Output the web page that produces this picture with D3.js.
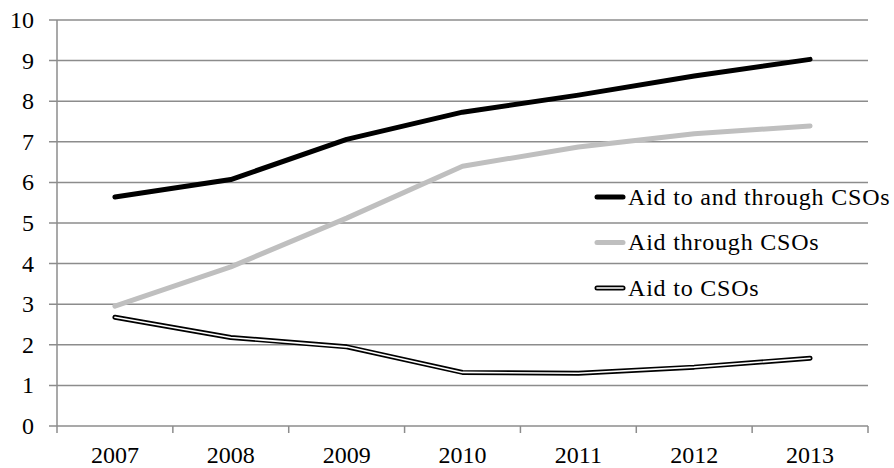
<!DOCTYPE html>
<html>
<head>
<meta charset="utf-8">
<script src="https://cdnjs.cloudflare.com/ajax/libs/d3/7.8.5/d3.min.js"></script>
<style>
  body { margin: 0; background: #fff; }
  text { font-family: "Liberation Serif", "DejaVu Serif", serif; fill: #000; }
</style>
</head>
<body>
<div id="chart"></div>
<script>
var years = ["2007", "2008", "2009", "2010", "2011", "2012", "2013"];
var aidToAndThrough = [5.64, 6.07, 7.06, 7.73, 8.15, 8.62, 9.03];
var aidThrough = [2.95, 3.92, 5.12, 6.40, 6.87, 7.20, 7.39];
var aidTo = [2.68, 2.18, 1.95, 1.32, 1.30, 1.45, 1.67];
var yTicks = [0, 1, 2, 3, 4, 5, 6, 7, 8, 9, 10];

var series = [
  {name: "Aid to and through CSOs", values: aidToAndThrough, type: "black"},
  {name: "Aid through CSOs", values: aidThrough, type: "gray"},
  {name: "Aid to CSOs", values: aidTo, type: "double"}
];

var width = 894, height = 468;
var plotLeft = 57, plotRight = 868, plotTop = 20, plotBottom = 426;

var svg = d3.select("#chart").append("svg")
    .attr("width", width)
    .attr("height", height);

var x = d3.scaleBand().domain(years).range([plotLeft, plotRight]);
var y = d3.scaleLinear().domain([0, 10]).range([plotBottom, plotTop]);

// gridlines
svg.append("g")
    .selectAll("line")
    .data(yTicks)
    .enter().append("line")
    .attr("x1", plotLeft - 8)
    .attr("x2", plotRight)
    .attr("y1", function(d) { return y(d); })
    .attr("y2", function(d) { return y(d); })
    .attr("stroke", "#8c8c8c")
    .attr("stroke-width", 1.5);

// y axis line
svg.append("line")
    .attr("x1", plotLeft).attr("x2", plotLeft)
    .attr("y1", plotTop).attr("y2", plotBottom + 7)
    .attr("stroke", "#8c8c8c")
    .attr("stroke-width", 1.5);

// x ticks between categories
var bounds = years.map(function(d) { return x(d) + x.bandwidth(); });
svg.append("g")
    .selectAll("line")
    .data(bounds)
    .enter().append("line")
    .attr("x1", function(d) { return d; })
    .attr("x2", function(d) { return d; })
    .attr("y1", plotBottom)
    .attr("y2", plotBottom + 7)
    .attr("stroke", "#8c8c8c")
    .attr("stroke-width", 1.5);

// y labels
svg.append("g")
    .selectAll("text")
    .data(yTicks)
    .enter().append("text")
    .attr("x", 34)
    .attr("y", function(d) { return y(d); })
    .attr("dy", "0.33em")
    .attr("text-anchor", "end")
    .style("font-size", "24px")
    .text(function(d) { return d; });

// x labels
svg.append("g")
    .selectAll("text")
    .data(years)
    .enter().append("text")
    .attr("x", function(d) { return x(d) + x.bandwidth() / 2; })
    .attr("y", 463)
    .attr("text-anchor", "middle")
    .style("font-size", "24px")
    .text(function(d) { return d; });

var line = d3.line()
    .x(function(d, i) { return x(years[i]) + x.bandwidth() / 2; })
    .y(function(d) { return y(d); });

function drawSeries(g, s, path) {
  if (s.type == "black") {
    g.append("path").attr("d", path).attr("fill", "none")
      .attr("stroke", "#000").attr("stroke-width", 5)
      .attr("stroke-linecap", "round").attr("stroke-linejoin", "round");
  } else if (s.type == "gray") {
    g.append("path").attr("d", path).attr("fill", "none")
      .attr("stroke", "#bfbfbf").attr("stroke-width", 5)
      .attr("stroke-linecap", "round").attr("stroke-linejoin", "round");
  } else {
    g.append("path").attr("d", path).attr("fill", "none")
      .attr("stroke", "#000").attr("stroke-width", 5)
      .attr("stroke-linecap", "round").attr("stroke-linejoin", "round");
    g.append("path").attr("d", path).attr("fill", "none")
      .attr("stroke", "#fff").attr("stroke-width", 1.6)
      .attr("stroke-linecap", "round").attr("stroke-linejoin", "round");
  }
}

var lines = svg.append("g");
series.slice().reverse().forEach(function(s) {
  drawSeries(lines, s, line(s.values));
});

// legend
var legend = svg.append("g");
series.forEach(function(s, i) {
  var ly = 197 + i * 45.5;
  drawSeries(legend, s, "M597," + ly + "L623," + ly);
  legend.append("text")
    .attr("x", 628)
    .attr("y", ly)
    .attr("dy", "0.33em")
    .style("font-size", "24px")
    .style("letter-spacing", "0.8px")
    .text(s.name);
});
</script>
</body>
</html>
